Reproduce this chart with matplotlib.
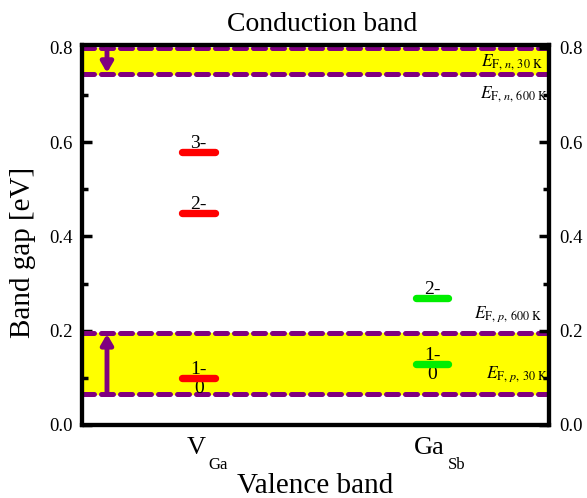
import numpy as np
import matplotlib
matplotlib.use("Agg")
import matplotlib.pyplot as plt
from matplotlib.ticker import MultipleLocator, FormatStrFormatter

plt.rcParams['font.family'] = ['Liberation Serif', 'DejaVu Serif']
plt.rcParams['mathtext.fontset'] = 'stix'

# --- datos ---
defectos = ['V', 'Ga']
subindices = ['Ga', 'Sb']
pos_defectos = [0.5, 1.5]
niveles_vga = [0.58, 0.45, 0.10]
etiquetas_vga = ['3-', '2-', '1-']
niveles_gasb = [0.27, 0.13]
etiquetas_gasb = ['2-', '1-']
ef_n = [0.80, 0.745]     # 30 K, 600 K
ef_p = [0.065, 0.195]    # 30 K, 600 K

morado = '#800080'
fig = plt.figure(figsize=(5.87, 4.98), dpi=100)
ax = fig.add_axes([0.1397, 0.1466, 0.7953, 0.763])

ax.set_xlim(0, 2)
ax.set_ylim(0, 0.806)

# bandas amarillas
ax.axhspan(ef_n[1], ef_n[0], color='yellow', zorder=0)
ax.axhspan(ef_p[0], ef_p[1], color='yellow', zorder=0)
for y in ef_n + ef_p:
    ax.axhline(y, color=morado, lw=3.6, dashes=(2.4, 1.4),
               dash_capstyle='round', zorder=2)

# flechas
ax.annotate('', xy=(0.107, ef_n[1] + 0.002), xytext=(0.107, ef_n[0]),
            arrowprops=dict(arrowstyle='-|>,head_width=0.35,head_length=0.6',
                            color=morado, lw=3.5, shrinkA=0, shrinkB=0), zorder=3)
ax.annotate('', xy=(0.107, ef_p[1] - 0.002), xytext=(0.107, ef_p[0]),
            arrowprops=dict(arrowstyle='-|>,head_width=0.35,head_length=0.6',
                            color=morado, lw=3.5, shrinkA=0, shrinkB=0), zorder=3)

# niveles de defecto
def dibujar(x0, niveles, etiquetas, color):
    for y, et in zip(niveles, etiquetas):
        ax.plot([x0 - 0.07, x0 + 0.07], [y, y], color=color, lw=5.3,
                solid_capstyle='round', zorder=4)
        ax.text(x0, y + 0.008, et, ha='center', va='baseline', fontsize=14, zorder=5)
    ax.text(x0, niveles[-1] - 0.004, '0', ha='center', va='top', fontsize=14, zorder=3)

dibujar(pos_defectos[0], niveles_vga, etiquetas_vga, '#ff0000')
dibujar(pos_defectos[1], niveles_gasb, etiquetas_gasb, '#00ee00')

# etiquetas de nivel de Fermi
fs_e = 12.5
ax.text(1.974, 0.763, r'$E_{\mathrm{F,}\,n\mathrm{,\,30\ K}}$', ha='right', va='baseline', fontsize=fs_e)
ax.text(1.998, 0.695, r'$E_{\mathrm{F,}\,n\mathrm{,\,600\ K}}$', ha='right', va='baseline', fontsize=fs_e)
ax.text(1.970, 0.227, r'$E_{\mathrm{F,}\,p\mathrm{,\,600\ K}}$', ha='right', va='baseline', fontsize=fs_e)
ax.text(1.998, 0.100, r'$E_{\mathrm{F,}\,p\mathrm{,\,30\ K}}$', ha='right', va='baseline', fontsize=fs_e)

# etiquetas de defecto con subíndice bajo
ax.set_xticks(pos_defectos)
ax.set_xticklabels([])
ax.tick_params(axis='x', length=0)
desp = [(4.7, 7.2), (9.3, 11.5)]
for x0, nom, sub, (d1, d2) in zip(pos_defectos, defectos, subindices, desp):
    ax.annotate(nom, xy=(x0, 0), xycoords=('data', 'axes fraction'),
                xytext=(d1, -21), textcoords='offset points',
                ha='right', va='baseline', fontsize=19)
    ax.annotate(sub, xy=(x0, 0), xycoords=('data', 'axes fraction'),
                xytext=(d2, -32), textcoords='offset points',
                ha='left', va='baseline', fontsize=12)

ax.yaxis.set_major_locator(MultipleLocator(0.2))
ax.yaxis.set_minor_locator(MultipleLocator(0.1))
ax.yaxis.set_major_formatter(FormatStrFormatter('%.1f'))
ax.tick_params(axis='y', which='both', direction='in', left=True, right=True,
               labelright=False, labelsize=13.5, width=2.5, pad=6.5)
ax.tick_params(axis='y', which='major', length=7)
ax.tick_params(axis='y', which='minor', length=4)
for s in ax.spines.values():
    s.set_linewidth(3)

# eje derecho con etiquetas mas separadas
ax2 = ax.twinx()
ax2.set_ylim(ax.get_ylim())
ax2.yaxis.set_major_locator(MultipleLocator(0.2))
ax2.yaxis.set_minor_locator(MultipleLocator(0.1))
ax2.yaxis.set_major_formatter(FormatStrFormatter('%.1f'))
ax2.tick_params(axis='y', which='both', direction='in', labelsize=13.5, width=2.5, pad=7.5)
ax2.tick_params(axis='y', which='major', length=7)
ax2.tick_params(axis='y', which='minor', length=4)
for s in ax2.spines.values():
    s.set_linewidth(3)

ax.set_title('Conduction band', fontsize=20, pad=10, x=0.515)
ax.set_xlabel('Valence band', fontsize=21, labelpad=31)
ax.set_ylabel('Band gap [eV]', fontsize=21)
ax.yaxis.set_label_coords(-0.0985, 0.455)

plt.savefig('out.png', dpi=100)
